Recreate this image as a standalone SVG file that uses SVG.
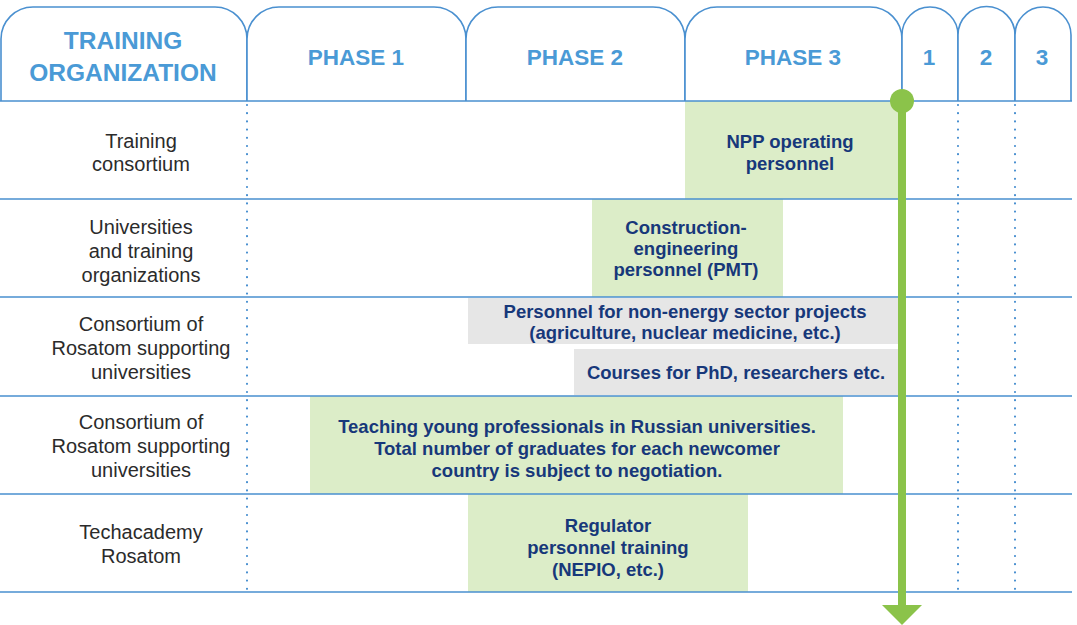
<svg xmlns="http://www.w3.org/2000/svg" width="1077" height="625" viewBox="0 0 1077 625">
  <style>
    .tab { fill: #ffffff; stroke: #4a90d0; stroke-width: 1.6; }
    .rule { stroke: #4a90d0; stroke-width: 1.6; fill: none; }
    .dots { stroke: #4a90d0; stroke-width: 2.2; stroke-linecap: round; stroke-dasharray: 0 8.2; fill: none; }
    .head { font-family: "Liberation Sans", Arial, sans-serif; font-weight: bold; font-size: 22.5px; fill: #4a9ad6; text-anchor: middle; }
    .head-big { font-size: 24.5px; }
    .org { font-family: "Liberation Sans", Arial, sans-serif; font-size: 20px; fill: #2b2b2b; text-anchor: middle; }
    .task { font-family: "Liberation Sans", Arial, sans-serif; font-weight: bold; font-size: 18.5px; fill: #17387a; text-anchor: middle; }
    .green { fill: #dcedc8; }
    .grey { fill: #e6e6e6; }
    .timeline { stroke: #8bc34a; stroke-width: 8; fill: none; }
  </style>

  <rect width="1077" height="625" fill="#ffffff"/>

  <!-- header tabs -->
  <g id="header">
    <path class="tab" d="M1,101 V39 A32,32 0 0 1 33,7 H215 A32,32 0 0 1 247,39 V101"/>
    <path class="tab" d="M247,101 V39 A32,32 0 0 1 279,7 H434 A32,32 0 0 1 466,39 V101"/>
    <path class="tab" d="M466,101 V39 A32,32 0 0 1 498,7 H653 A32,32 0 0 1 685,39 V101"/>
    <path class="tab" d="M685,101 V39 A32,32 0 0 1 717,7 H870 A32,32 0 0 1 902,39 V101"/>
    <path class="tab" d="M902,101 V35 A28,28 0 0 1 958,35 V101"/>
    <path class="tab" d="M958,101 V35 A28.5,28.5 0 0 1 1015,35 V101"/>
    <path class="tab" d="M1015,101 V35 A28,28 0 0 1 1071,35 V101"/>
    <text class="head head-big" x="123" y="49">TRAINING</text>
    <text class="head head-big" x="123" y="81">ORGANIZATION</text>
    <text class="head" x="356" y="65">PHASE 1</text>
    <text class="head" x="575" y="65">PHASE 2</text>
    <text class="head" x="793" y="65">PHASE 3</text>
    <text class="head" x="929" y="65">1</text>
    <text class="head" x="986" y="65">2</text>
    <text class="head" x="1042" y="65">3</text>
  </g>

  <!-- task bars -->
  <g id="npp-operating">
    <rect class="green" x="685" y="101" width="217" height="98"/>
    <text class="task" x="790" y="148">NPP operating</text>
    <text class="task" x="790" y="170">personnel</text>
  </g>
  <g id="construction-engineering">
    <rect class="green" x="592" y="199" width="191" height="98"/>
    <text class="task" x="686" y="234">Construction-</text>
    <text class="task" x="686" y="255">engineering</text>
    <text class="task" x="686" y="276">personnel (PMT)</text>
  </g>
  <g id="non-energy">
    <rect class="grey" x="468" y="298" width="434" height="46"/>
    <text class="task" x="685" y="318">Personnel for non-energy sector projects</text>
    <text class="task" x="685" y="339">(agriculture, nuclear medicine, etc.)</text>
  </g>
  <g id="phd-courses">
    <rect class="grey" x="574" y="349" width="328" height="46"/>
    <text class="task" x="736" y="379">Courses for PhD, researchers etc.</text>
  </g>
  <g id="young-professionals">
    <rect class="green" x="310" y="396" width="533" height="98"/>
    <text class="task" x="577" y="433">Teaching young professionals in Russian universities.</text>
    <text class="task" x="577" y="455">Total number of graduates for each newcomer</text>
    <text class="task" x="577" y="477">country is subject to negotiation.</text>
  </g>
  <g id="regulator-training">
    <rect class="green" x="468" y="494" width="280" height="98"/>
    <text class="task" x="608" y="532">Regulator</text>
    <text class="task" x="608" y="554">personnel training</text>
    <text class="task" x="608" y="576">(NEPIO, etc.)</text>
  </g>

  <!-- organizations column -->
  <g id="org-training-consortium">
    <text class="org" x="141" y="148">Training</text>
    <text class="org" x="141" y="171">consortium</text>
  </g>
  <g id="org-universities">
    <text class="org" x="141" y="234">Universities</text>
    <text class="org" x="141" y="258">and training</text>
    <text class="org" x="141" y="282">organizations</text>
  </g>
  <g id="org-consortium-1">
    <text class="org" x="141" y="331">Consortium of</text>
    <text class="org" x="141" y="355">Rosatom supporting</text>
    <text class="org" x="141" y="379">universities</text>
  </g>
  <g id="org-consortium-2">
    <text class="org" x="141" y="429">Consortium of</text>
    <text class="org" x="141" y="453">Rosatom supporting</text>
    <text class="org" x="141" y="477">universities</text>
  </g>
  <g id="org-techacademy">
    <text class="org" x="141" y="539">Techacademy</text>
    <text class="org" x="141" y="563">Rosatom</text>
  </g>

  <!-- grid rules -->
  <g id="grid">
    <path class="rule" d="M0,101 H1072 M0,199 H1072 M0,297 H1072 M0,396 H1072 M0,494 H1072 M0,592 H1072"/>
    <path class="dots" d="M247,105 V592 M958,105 V592 M1015,105 V592"/>
  </g>

  <!-- timeline arrow -->
  <g id="connectors">
    <path class="timeline" d="M902,101 V606"/>
    <circle cx="902" cy="101" r="12" fill="#8bc34a"/>
    <polygon points="882,605 922,605 902,625" fill="#8bc34a"/>
  </g>
</svg>
